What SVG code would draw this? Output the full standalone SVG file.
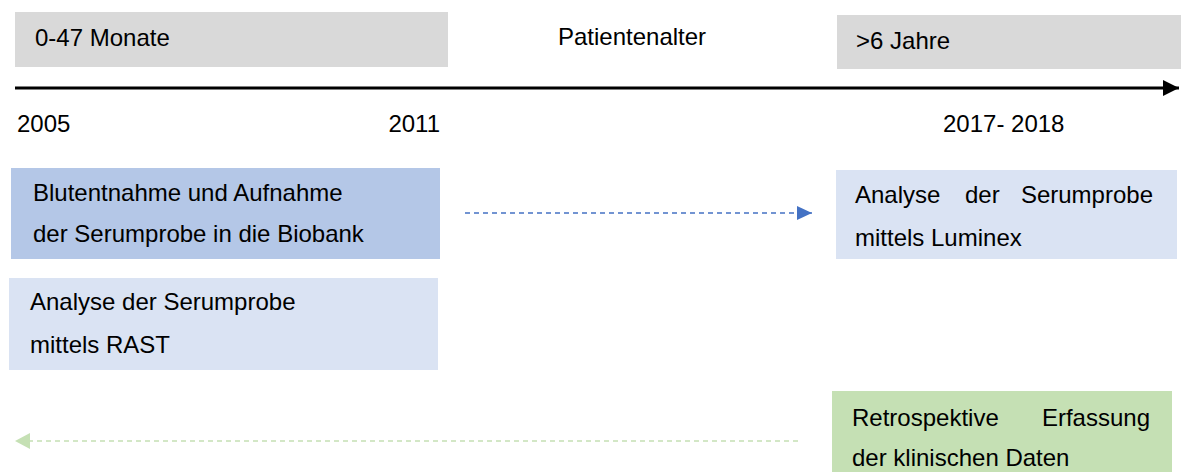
<svg xmlns="http://www.w3.org/2000/svg" width="1181" height="472" viewBox="0 0 1181 472">
<style>
text{font-family:"Liberation Sans",Arial,sans-serif;font-size:24px;fill:#000}
.gray{fill:#D9D9D9}
.blue{fill:#B4C7E7}
.light{fill:#DAE3F3}
.green{fill:#C5E0B4}
.dashb{stroke:#4472C4;stroke-width:1.5;stroke-dasharray:5 4;fill:none}
.dashg{stroke:#C5E0B4;stroke-width:1.5;stroke-dasharray:5 4;fill:none}
</style>
<defs>
<marker id="axisHead" viewBox="0 0 16 16" refX="16" refY="8" markerWidth="16" markerHeight="16" markerUnits="userSpaceOnUse" orient="auto"><path d="M0,0 L16,8 L0,16 Z" fill="#000"/></marker>
<marker id="blueHead" viewBox="0 0 15 14" refX="15" refY="7" markerWidth="15" markerHeight="14" markerUnits="userSpaceOnUse" orient="auto"><path d="M0,0 L15,7 L0,14 Z" fill="#4472C4"/></marker>
<marker id="greenHead" viewBox="0 0 15 16" refX="15" refY="8" markerWidth="15" markerHeight="16" markerUnits="userSpaceOnUse" orient="auto"><path d="M0,0 L15,8 L0,16 Z" fill="#C5E0B4"/></marker>
</defs>
<g id="age-young"><rect class="gray" x="15" y="12" width="433" height="55"/><text x="35" y="46">0-47 Monate</text></g>
<g id="age-label"><text x="558" y="45">Patientenalter</text></g>
<g id="age-old"><rect class="gray" x="837" y="15" width="344" height="54"/><text x="856" y="49">&gt;6 Jahre</text></g>
<g id="connectors">
<line x1="15" y1="88" x2="1179" y2="88" stroke="#000" stroke-width="3" marker-end="url(#axisHead)"/>
<line class="dashb" x1="465" y1="213" x2="812" y2="213" marker-end="url(#blueHead)"/>
<line class="dashg" x1="798" y1="441" x2="15" y2="441" marker-end="url(#greenHead)"/>
</g>
<g id="year-2005"><text x="17" y="132">2005</text></g>
<g id="year-2011"><text x="440" y="132" text-anchor="end">2011</text></g>
<g id="year-2017"><text x="943" y="132">2017- 2018</text></g>
<g id="blutentnahme"><rect class="blue" x="11" y="168" width="429" height="91"/><text x="33" y="201">Blutentnahme und Aufnahme</text><text x="33" y="242">der Serumprobe in die Biobank</text></g>
<g id="rast"><rect class="light" x="9" y="278" width="429" height="92"/><text x="30" y="310">Analyse der Serumprobe</text><text x="30" y="353">mittels RAST</text></g>
<g id="luminex"><rect class="light" x="836" y="170" width="341" height="89"/><text x="855" y="203">Analyse</text><text x="965" y="203">der</text><text x="1153" y="203" text-anchor="end">Serumprobe</text><text x="855" y="246">mittels Luminex</text></g>
<g id="retrospektiv"><rect class="green" x="832" y="391" width="340" height="81"/><text x="852" y="426">Retrospektive</text><text x="1150" y="426" text-anchor="end">Erfassung</text><text x="852" y="466">der klinischen Daten</text></g>
</svg>
